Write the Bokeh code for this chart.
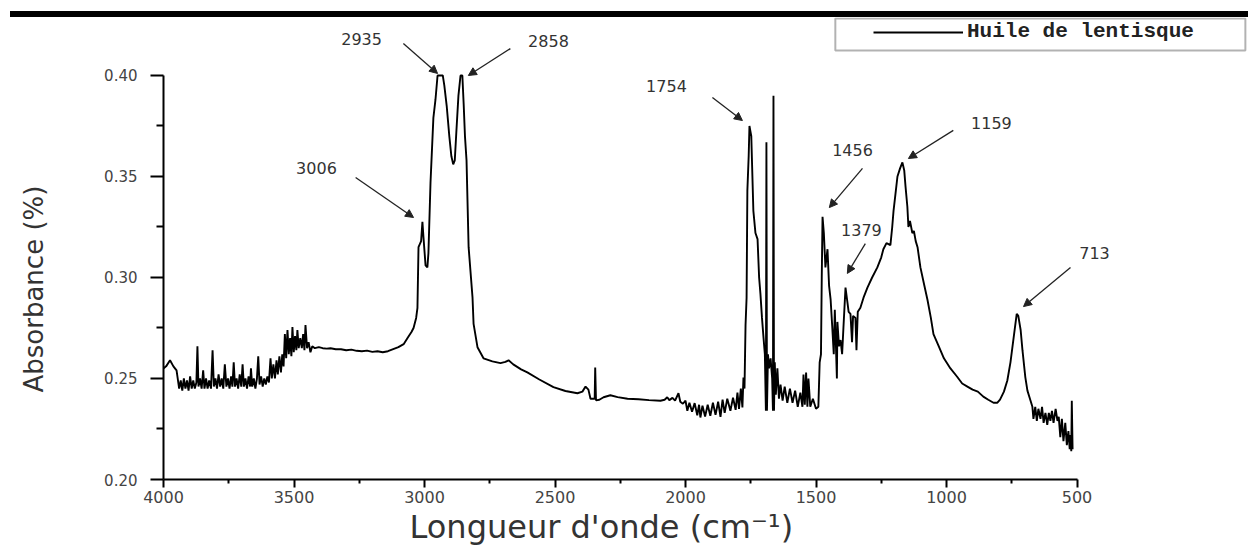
from bokeh.plotting import figure
from bokeh.models import (Range1d, FixedTicker, Legend, LegendItem, Arrow, NormalHead,
                          BoxAnnotation, ColumnDataSource, Div, Title)
from bokeh.layouts import column
from bokeh.embed import file_html
from bokeh.resources import INLINE
from bokeh.core.properties import value

# ---------------- data ----------------
wavenumber = [
    4000, 3990, 3975, 3962, 3950, 3940, 3934, 3928, 3922, 3916,
    3910, 3904, 3898, 3892, 3886, 3880, 3874, 3870, 3866, 3860,
    3854, 3848, 3843, 3837, 3831, 3825, 3818, 3812, 3807, 3801,
    3795, 3789, 3783, 3777, 3771, 3765, 3759, 3753, 3747, 3741,
    3736, 3731, 3726, 3720, 3714, 3708, 3702, 3697, 3692, 3686,
    3680, 3674, 3668, 3665, 3660, 3654, 3648, 3642, 3637, 3632,
    3626, 3620, 3614, 3608, 3602, 3596, 3590, 3585, 3579, 3573,
    3567, 3562, 3556, 3550, 3545, 3540, 3535, 3530, 3525, 3520,
    3515, 3510, 3506, 3501, 3496, 3491, 3487, 3482, 3476, 3470,
    3465, 3460, 3456, 3450, 3444, 3437, 3430, 3420, 3405, 3390,
    3375, 3360, 3340, 3320, 3300, 3280, 3260, 3240, 3220, 3200,
    3180, 3160, 3140, 3120, 3100, 3080, 3065, 3050, 3042, 3032,
    3027, 3023, 3013, 3008, 3004, 2996, 2989, 2985, 2977, 2966,
    2958, 2950, 2940, 2930, 2924, 2915, 2905, 2897, 2890, 2884,
    2878, 2870, 2862, 2855, 2850, 2845, 2839, 2831, 2816, 2812,
    2797, 2774, 2740, 2709, 2690, 2678, 2660, 2630, 2606, 2560,
    2506, 2460, 2414, 2395, 2383, 2372, 2364, 2348, 2346, 2343,
    2330, 2314, 2288, 2260, 2222, 2180, 2140, 2096, 2080, 2070,
    2062, 2050, 2040, 2027, 2020, 2010, 2000, 1993, 1985, 1975,
    1965, 1955, 1948, 1943, 1935, 1925, 1915, 1905, 1895, 1885,
    1875, 1866, 1858, 1850, 1840, 1828, 1818, 1808, 1801, 1795,
    1788, 1782, 1778, 1774, 1770, 1766, 1763, 1758, 1755, 1748,
    1740, 1732, 1724, 1718, 1713, 1707, 1701, 1696, 1692, 1690,
    1688, 1684, 1680, 1674, 1668, 1665, 1663, 1661, 1658, 1654,
    1648, 1642, 1636, 1628, 1620, 1610, 1600, 1590, 1580, 1570,
    1560, 1552, 1548, 1543, 1538, 1533, 1529, 1522, 1512, 1500,
    1491, 1486, 1481, 1478, 1475, 1470, 1464, 1456, 1450, 1444,
    1438, 1432, 1428, 1425, 1420, 1418, 1412, 1406, 1400, 1395,
    1387, 1380, 1375, 1368, 1362, 1358, 1349, 1345, 1340, 1330,
    1318, 1303, 1285, 1265, 1250, 1242, 1230, 1215, 1208, 1203,
    1195, 1188, 1178, 1169, 1162, 1157, 1150, 1146, 1140, 1131,
    1125, 1118, 1111, 1100, 1085, 1073, 1060, 1050, 1030, 1010,
    985, 960, 940, 920, 900, 880, 859, 840, 820, 805,
    795, 780, 767, 755, 748, 738, 731, 725, 716, 709,
    698, 690, 678, 671, 667, 660, 654, 648, 640, 634,
    628, 621, 614, 608, 602, 596, 590, 582, 575, 570,
    564, 558, 552, 545, 539, 533, 528, 525, 522, 520,
    517,
]
absorbance = [
    0.255, 0.256, 0.259, 0.256, 0.254, 0.245, 0.249, 0.244, 0.250, 0.245,
    0.249, 0.244, 0.251, 0.245, 0.249, 0.245, 0.248, 0.266, 0.246, 0.250,
    0.245, 0.254, 0.245, 0.250, 0.245, 0.249, 0.245, 0.264, 0.246, 0.250,
    0.245, 0.252, 0.246, 0.250, 0.245, 0.257, 0.246, 0.250, 0.245, 0.251,
    0.246, 0.258, 0.246, 0.250, 0.245, 0.252, 0.246, 0.257, 0.246, 0.250,
    0.245, 0.251, 0.246, 0.255, 0.246, 0.250, 0.245, 0.250, 0.261, 0.247,
    0.251, 0.246, 0.250, 0.247, 0.251, 0.248, 0.260, 0.250, 0.257, 0.250,
    0.259, 0.252, 0.261, 0.253, 0.262, 0.256, 0.272, 0.260, 0.274, 0.262,
    0.270, 0.261, 0.2755, 0.263, 0.271, 0.264, 0.274, 0.265, 0.270, 0.265,
    0.272, 0.264, 0.2765, 0.265, 0.268, 0.263, 0.266, 0.265, 0.2655, 0.265,
    0.2648, 0.265, 0.2645, 0.2645, 0.264, 0.2643, 0.2637, 0.2635, 0.2638, 0.2632,
    0.2635, 0.263, 0.2635, 0.2645, 0.2655, 0.267, 0.270, 0.273, 0.275, 0.280,
    0.285, 0.315, 0.318, 0.3275, 0.320, 0.306, 0.305, 0.312, 0.347, 0.379,
    0.388, 0.400, 0.400, 0.400, 0.395, 0.385, 0.370, 0.360, 0.356, 0.358,
    0.372, 0.390, 0.400, 0.400, 0.386, 0.370, 0.358, 0.315, 0.290, 0.277,
    0.2655, 0.260, 0.2585, 0.2576, 0.2582, 0.259, 0.257, 0.2545, 0.253, 0.2495,
    0.2457, 0.2438, 0.2427, 0.2435, 0.246, 0.2445, 0.240, 0.240, 0.2554, 0.2392,
    0.2395, 0.2407, 0.2417, 0.2408, 0.2400, 0.2397, 0.2393, 0.2390, 0.2395, 0.2407,
    0.2393, 0.2404, 0.2390, 0.2427, 0.2385, 0.2375, 0.2390, 0.2340, 0.2380, 0.2335,
    0.2378, 0.2318, 0.2370, 0.2307, 0.2365, 0.2312, 0.2370, 0.2315, 0.2380, 0.2320,
    0.2385, 0.2310, 0.2395, 0.2330, 0.2400, 0.2340, 0.2405, 0.2345, 0.2430, 0.2350,
    0.2450, 0.2357, 0.2505, 0.2450, 0.2765, 0.2900, 0.343, 0.360, 0.375, 0.370,
    0.333, 0.322, 0.319, 0.300, 0.292, 0.280, 0.270, 0.262, 0.234, 0.367,
    0.234, 0.262, 0.255, 0.260, 0.250, 0.234, 0.390, 0.234, 0.258, 0.242,
    0.255, 0.240, 0.247, 0.239, 0.246, 0.238, 0.245, 0.238, 0.244, 0.236,
    0.243, 0.236, 0.252, 0.237, 0.253, 0.236, 0.250, 0.236, 0.240, 0.235,
    0.236, 0.258, 0.262, 0.300, 0.330, 0.322, 0.305, 0.314, 0.296, 0.289,
    0.276, 0.262, 0.284, 0.272, 0.250, 0.278, 0.266, 0.269, 0.262, 0.275,
    0.295, 0.288, 0.283, 0.282, 0.268, 0.281, 0.280, 0.264, 0.283, 0.285,
    0.290, 0.295, 0.300, 0.305, 0.310, 0.314, 0.317, 0.316, 0.325, 0.333,
    0.342, 0.350, 0.354, 0.357, 0.353, 0.345, 0.335, 0.325, 0.328, 0.322,
    0.323, 0.318, 0.315, 0.305, 0.296, 0.289, 0.280, 0.272, 0.266, 0.260,
    0.255, 0.251, 0.2475, 0.246, 0.2445, 0.2435, 0.241, 0.2395, 0.238, 0.238,
    0.2395, 0.2435, 0.249, 0.258, 0.265, 0.275, 0.282, 0.281, 0.274, 0.264,
    0.2506, 0.244, 0.239, 0.236, 0.230, 0.236, 0.229, 0.235, 0.230, 0.236,
    0.228, 0.233, 0.227, 0.233, 0.229, 0.234, 0.228, 0.235, 0.229, 0.231,
    0.221, 0.230, 0.219, 0.228, 0.217, 0.224, 0.215, 0.222, 0.214, 0.239,
    0.215,
]
series_name = "Huile de lentisque"
x_title = "Longueur d'onde (cm\u207b\u00b9)"
y_title = "Absorbance (%)"

x_ticks = [4000, 3500, 3000, 2500, 2000, 1500, 1000, 500]
x_tick_labels = ["4000", "3500", "3000", "2500", "2000", "1500", "1000", "500"]
x_minor_ticks = [3750, 3250, 2750, 2250, 1750, 1250, 750]
y_ticks = [0.20, 0.25, 0.30, 0.35, 0.40]
y_tick_labels = ["0.20", "0.25", "0.30", "0.35", "0.40"]
y_minor_ticks = [0.225, 0.275, 0.325, 0.375]

# peak annotations: label text, label anchor, arrow start, arrow end (data units)
peak_labels = ["2935", "2858", "3006", "1754", "1456", "1379", "1159", "713"]
label_wn = [3241, 2525, 3414, 2073, 1360, 1326, 828, 433]
label_abs = [0.4181, 0.4173, 0.3544, 0.3950, 0.3629, 0.3233, 0.3767, 0.3119]
arrow_from_wn = [3081, 2671, 3264, 1897, 1322, 1311, 974, 525]
arrow_from_abs = [0.4158, 0.4133, 0.3495, 0.3891, 0.3540, 0.3168, 0.3728, 0.3049]
arrow_to_wn = [2950, 2832, 3042, 1782, 1449, 1380, 1146, 705]
arrow_to_abs = [0.4010, 0.4000, 0.3297, 0.3777, 0.3346, 0.3020, 0.3589, 0.2856]

# ---------------- figure ----------------
p = figure(width=1248, height=540, output_backend="svg", toolbar_location=None,
           x_range=Range1d(4000, -157), y_range=Range1d(0.20, 0.4287),
           min_border_left=163, min_border_right=0, min_border_top=0,
           min_border_bottom=78)
p.outline_line_color = None
p.grid.visible = False
p.background_fill_color = "white"
p.border_fill_color = "white"

line = p.line(wavenumber, absorbance, line_color="black", line_width=1.9)

# axes
for ax in (p.xaxis[0], p.yaxis[0]):
    ax.axis_line_color = "black"
    ax.axis_line_width = 2
    ax.major_tick_line_color = "black"
    ax.major_tick_line_width = 2
    ax.minor_tick_line_color = "black"
    ax.minor_tick_line_width = 2
    ax.major_tick_in = 0
    ax.minor_tick_in = 0
    ax.major_label_text_font = "DejaVu Sans"
    ax.major_label_text_color = "#444444"

xa = p.xaxis[0]
xa.ticker = FixedTicker(ticks=x_ticks, minor_ticks=x_minor_ticks)
xa.major_label_overrides = dict(zip(x_ticks, x_tick_labels))
xa.bounds = (500, 4000)
xa.major_tick_out = 8
xa.minor_tick_out = 4
xa.major_label_standoff = 3
xa.major_label_text_font_size = "16px"

ya = p.yaxis[0]
ya.ticker = FixedTicker(ticks=y_ticks, minor_ticks=y_minor_ticks)
ya.major_label_overrides = dict(zip(y_ticks, y_tick_labels))
ya.bounds = (0.20, 0.40)
ya.major_tick_out = 13
ya.minor_tick_out = 7
ya.major_label_standoff = 13
ya.major_label_text_font_size = "15px"

# axis titles, placed as titles so they can be offset along the bounded axes
p.add_layout(Title(text=x_title, align="left", offset=246, standoff=0,
                   text_font="DejaVu Sans", text_font_style="normal",
                   text_font_size="32px", text_color="#333333"), "below")
# blank spacer panel between the y tick labels and the y title
p.add_layout(Title(text=" ", standoff=40, text_font_size="10px",
                   text_color="white"), "left")
p.add_layout(Title(text=y_title, align="left", offset=87, standoff=0,
                   text_font="DejaVu Sans", text_font_style="normal",
                   text_font_size="26px", text_color="#333333"), "left")

# peak labels and arrows
lab_src = ColumnDataSource(dict(x=label_wn, y=label_abs, text=peak_labels))
p.text(x="x", y="y", text="text", source=lab_src, text_align="center",
       text_baseline="middle", text_font=value("DejaVu Sans"),
       text_font_size="16px", text_color="#333333")
arr_src = ColumnDataSource(dict(x0=arrow_from_wn, y0=arrow_from_abs,
                                x1=arrow_to_wn, y1=arrow_to_abs))
p.add_layout(Arrow(source=arr_src, x_start="x0", y_start="y0", x_end="x1", y_end="y1",
                   line_color="#222222", line_width=1.3,
                   end=NormalHead(size=8, fill_color="#222222", line_color="#222222",
                                  line_width=1)))

# legend (box drawn separately)
p.add_layout(BoxAnnotation(left=1426, right=-145, top=0.4282, bottom=0.4124,
                           fill_alpha=0, line_color="black", line_width=2))
legend = Legend(items=[LegendItem(label=series_name, renderers=[line])],
                location=(705, 431), padding=5, margin=0, spacing=0,
                glyph_width=90, glyph_height=20, label_standoff=4,
                label_text_font="Liberation Mono", label_text_font_style="bold",
                label_text_font_size="21px", label_text_color="#222222",
                border_line_alpha=0, background_fill_alpha=0)
p.add_layout(legend)

bar = Div(text="", width=1238, height=6, margin=(11, 0, 0, 10),
          styles={"background-color": "black"})

layout = column(bar, p, spacing=0)
open("out.html", "w").write(file_html(layout, INLINE))
